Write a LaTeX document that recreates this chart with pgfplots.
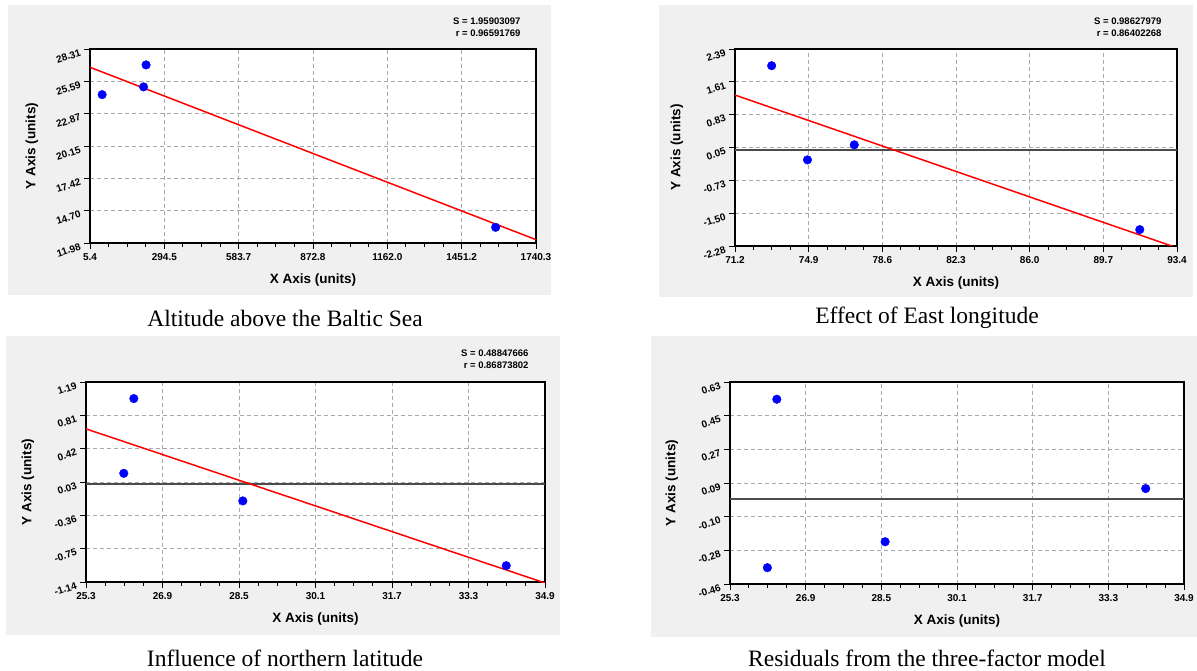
\documentclass[border=0pt]{standalone}
\usepackage{fontspec}
\setmainfont{Liberation Serif}
\newfontfamily\arial{Liberation Sans}
\usepackage{pgfplots}
\pgfplotsset{compat=1.18}
\definecolor{panelgray}{HTML}{F0F0F0}
\definecolor{gridgray}{HTML}{A8A8A8}

\pgfplotsset{
  fitpanel/.style={
    scale only axis, anchor=south west,
    axis background/.style={fill=white},
    tick pos=left, tick align=outside,
    minor tick num=3,
    major tick length=6pt, minor tick length=4pt,
    grid=major,
    grid style={gridgray, dashed, line width=0.9pt, dash pattern=on 4pt off 3pt},
    axis line style={black, line width=1.1pt},
    tick style={black, line width=0.9pt},
    ticklabel style={font=\arial\bfseries\fontsize{10}{10}\selectfont},
    yticklabel style={rotate=18, anchor=east, xshift=-1pt, yshift=-2pt},
    xticklabel style={anchor=north, yshift=-1pt},
    every axis x label/.style={at={([yshift=-37pt]axis description cs:0.5,0)}, anchor=center,
      font=\arial\bfseries\fontsize{13.5}{14}\selectfont},
    every axis y label/.style={at={([xshift=-58pt]axis description cs:0,0.5)}, anchor=center, rotate=90,
      font=\arial\bfseries\fontsize{13.5}{14}\selectfont},
    xlabel={X Axis (units)}, ylabel={Y Axis (units)},
  },
  fitline/.style={red, line width=1.5pt},
  zeroline/.style={black!70, line width=1.6pt},
  pts/.style={only marks, mark=*, mark size=4.3pt, mark options={draw=blue, fill=blue}},
}
\newcommand\sr[3]{%
  \node[anchor=base east, font=\arial\bfseries\fontsize{9.5}{10}\selectfont] at (#1,#2) {S = #3};}
\newcommand\rr[3]{%
  \node[anchor=base east, font=\arial\bfseries\fontsize{9.5}{10}\selectfont] at (#1,#2) {r = #3};}

\begin{document}
\begin{tikzpicture}
\path[use as bounding box, fill=white] (0pt,0pt) rectangle (1197pt,670pt);

% grey panels
\fill[panelgray] (8pt,375pt) rectangle (551pt,665pt);
\fill[panelgray] (659pt,373pt) rectangle (1193pt,665pt);
\fill[panelgray] (6pt,35pt) rectangle (560pt,334pt);
\fill[panelgray] (651pt,33pt) rectangle (1197pt,334pt);

% top left: altitude
\begin{axis}[fitpanel, at={(90pt,427pt)}, width=446pt, height=194pt,
  xmin=5.4, xmax=1740.3, ymin=11.98, ymax=28.31,
  xtick={5.4,294.55,583.7,872.85,1162.0,1451.15,1740.3},
  xticklabels={5.4,294.5,583.7,872.8,1162.0,1451.2,1740.3},
  ytick={11.98,14.70,17.42,20.145,22.87,25.59,28.31},
  yticklabels={11.98,14.70,17.42,20.15,22.87,25.59,28.31}]
\addplot[fitline] coordinates {(5.4,26.77) (1740.3,12.26)};
\addplot[pts] coordinates {(52.6,24.47) (213.8,25.12) (223.5,26.97) (1583.3,13.30)};
\end{axis}
\sr{524pt}{645pt}{1.95903097}
\rr{524pt}{633pt}{0.96591769}
\node[font=\fontsize{23.5}{24}\selectfont] at (285pt,352pt) {Altitude above the Baltic Sea};

% top right: longitude
\begin{axis}[fitpanel, at={(735pt,424pt)}, width=442pt, height=197pt,
  xmin=71.2, xmax=93.4, ymin=-2.28, ymax=2.39,
  xtick={71.2,74.9,78.6,82.3,86.0,89.7,93.4},
  xticklabels={71.2,74.9,78.6,82.3,86.0,89.7,93.4},
  ytick={-2.28,-1.5017,-0.7233,0.055,0.8333,1.6117,2.39},
  yticklabels={-2.28,-1.50,-0.73,0.05,0.83,1.61,2.39}]
\addplot[zeroline] coordinates {(71.2,0) (93.4,0)};
\addplot[fitline] coordinates {(71.2,1.298) (93.4,-2.323)};
\addplot[pts] coordinates {(73.04,1.994) (74.84,-0.238) (77.19,0.118) (91.53,-1.892)};
\end{axis}
\sr{1165pt}{645pt}{0.98627979}
\rr{1165pt}{633pt}{0.86402268}
\node[font=\fontsize{23.5}{24}\selectfont] at (927pt,352pt) {Effect of East longitude};

% bottom left: latitude
\begin{axis}[fitpanel, at={(86pt,88pt)}, width=459pt, height=200pt,
  xmin=25.3, xmax=34.9, ymin=-1.14, ymax=1.19,
  xtick={25.3,26.9,28.5,30.1,31.7,33.3,34.9},
  xticklabels={25.3,26.9,28.5,30.1,31.7,33.3,34.9},
  ytick={-1.14,-0.7517,-0.3633,0.025,0.4133,0.8017,1.19},
  yticklabels={-1.14,-0.75,-0.36,0.03,0.42,0.81,1.19}]
\addplot[zeroline] coordinates {(25.3,0) (34.9,0)};
\addplot[fitline] coordinates {(25.3,0.644) (34.9,-1.151)};
\addplot[pts] coordinates {(26.30,0.997) (26.09,0.126) (28.58,-0.195) (34.09,-0.950)};
\end{axis}
\sr{532pt}{313pt}{0.48847666}
\rr{532pt}{301pt}{0.86873802}
\node[font=\fontsize{23.5}{24}\selectfont] at (285pt,12pt) {Influence of northern latitude};

% bottom right: residuals
\begin{axis}[fitpanel, at={(730pt,86pt)}, width=454pt, height=202pt,
  xmin=25.3, xmax=34.9, ymin=-0.46, ymax=0.63,
  xtick={25.3,26.9,28.5,30.1,31.7,33.3,34.9},
  xticklabels={25.3,26.9,28.5,30.1,31.7,33.3,34.9},
  ytick={-0.46,-0.2783,-0.0967,0.085,0.2667,0.4483,0.63},
  yticklabels={-0.46,-0.28,-0.10,0.09,0.27,0.45,0.63}]
\addplot[zeroline] coordinates {(25.3,0) (34.9,0)};
\addplot[pts] coordinates {(26.29,0.537) (26.09,-0.372) (28.58,-0.232) (34.09,0.055)};
\end{axis}
\node[font=\fontsize{23.5}{24}\selectfont] at (927pt,12pt) {Residuals from the three-factor model};
\end{tikzpicture}
\end{document}
